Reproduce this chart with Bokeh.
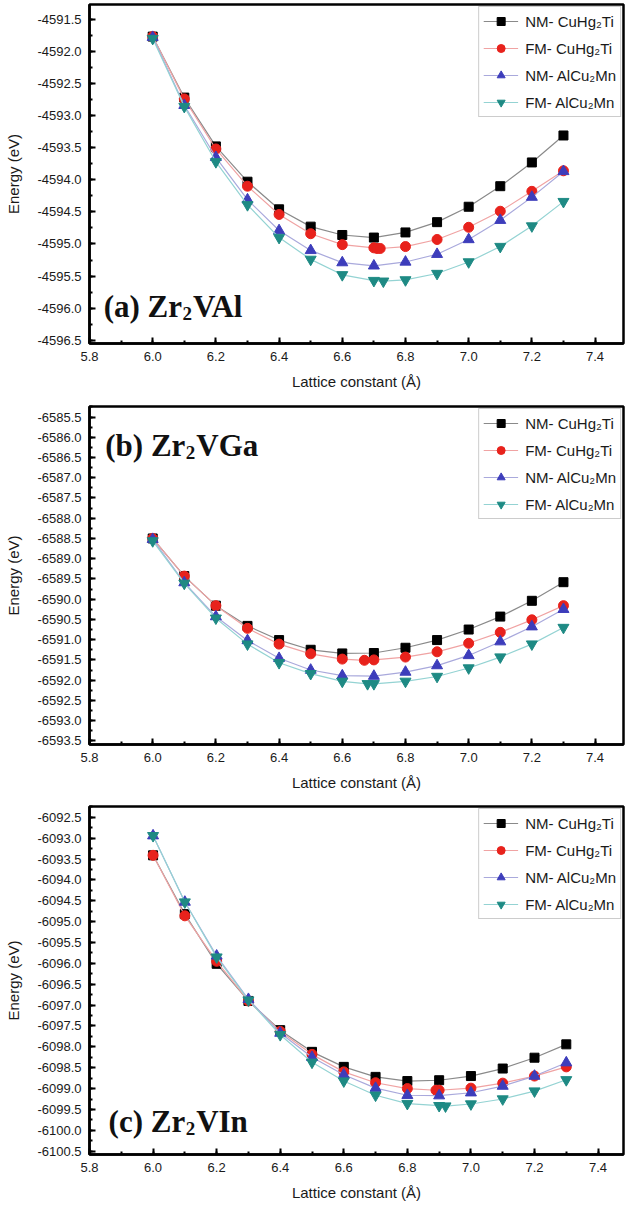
from bokeh.plotting import figure
from bokeh.layouts import column
from bokeh.models import (Range1d, SingleIntervalTicker, PrintfTickFormatter,
                          Legend, LegendItem)
from bokeh.core.properties import value
from bokeh.embed import file_html
from bokeh.resources import INLINE

# ---------------- data: total energy (eV) vs lattice constant (Å) ----------------
lat = [6.0, 6.1, 6.2, 6.3, 6.4, 6.5, 6.6, 6.7, 6.8, 6.9, 7.0, 7.1, 7.2, 7.3]

# Zr2VAl
al_nm_cu_x = lat
al_nm_cu_y = [-4591.77, -4592.72, -4593.48, -4594.03, -4594.46, -4594.73, -4594.86,
              -4594.90, -4594.82, -4594.66, -4594.42, -4594.10, -4593.73, -4593.31]
al_fm_cu_x = [6.0, 6.1, 6.2, 6.3, 6.4, 6.5, 6.6, 6.7, 6.71, 6.72, 6.8, 6.9, 7.0, 7.1, 7.2, 7.3]
al_fm_cu_y = [-4591.77, -4592.74, -4593.52, -4594.10, -4594.54, -4594.84, -4595.01,
              -4595.06, -4595.07, -4595.07, -4595.04, -4594.93, -4594.74, -4594.49,
              -4594.18, -4593.86]
al_nm_al_x = lat
al_nm_al_y = [-4591.78, -4592.84, -4593.65, -4594.31, -4594.79, -4595.10, -4595.29,
              -4595.34, -4595.28, -4595.16, -4594.93, -4594.63, -4594.27, -4593.87]
al_fm_al_x = [6.0, 6.1, 6.2, 6.3, 6.4, 6.5, 6.6, 6.7, 6.73, 6.8, 6.9, 7.0, 7.1, 7.2, 7.3]
al_fm_al_y = [-4591.80, -4592.86, -4593.72, -4594.39, -4594.90, -4595.24, -4595.48,
              -4595.57, -4595.58, -4595.56, -4595.46, -4595.28, -4595.04, -4594.72,
              -4594.34]

# Zr2VGa
ga_nm_cu_x = lat
ga_nm_cu_y = [-6588.50, -6589.43, -6590.16, -6590.66, -6591.01, -6591.25, -6591.34,
              -6591.33, -6591.20, -6591.01, -6590.75, -6590.43, -6590.04, -6589.58]
ga_fm_cu_x = [6.0, 6.1, 6.2, 6.3, 6.4, 6.5, 6.6, 6.67, 6.7, 6.8, 6.9, 7.0, 7.1, 7.2, 7.3]
ga_fm_cu_y = [-6588.50, -6589.43, -6590.16, -6590.72, -6591.11, -6591.35, -6591.48,
              -6591.51, -6591.50, -6591.43, -6591.30, -6591.09, -6590.82, -6590.51,
              -6590.16]
ga_nm_al_x = lat
ga_nm_al_y = [-6588.52, -6589.59, -6590.43, -6591.02, -6591.46, -6591.75, -6591.89,
              -6591.90, -6591.80, -6591.64, -6591.39, -6591.05, -6590.68, -6590.25]
ga_fm_al_x = [6.0, 6.1, 6.2, 6.3, 6.4, 6.5, 6.6, 6.68, 6.7, 6.8, 6.9, 7.0, 7.1, 7.2, 7.3]
ga_fm_al_y = [-6588.56, -6589.61, -6590.47, -6591.11, -6591.57, -6591.84, -6592.03,
              -6592.09, -6592.09, -6592.03, -6591.91, -6591.70, -6591.43, -6591.11,
              -6590.70]

# Zr2VIn
in_nm_cu_x = lat
in_nm_cu_y = [-6093.41, -6094.82, -6096.01, -6096.90, -6097.60, -6098.12, -6098.48,
              -6098.72, -6098.82, -6098.80, -6098.70, -6098.52, -6098.26, -6097.94]
in_fm_cu_x = [6.0, 6.1, 6.2, 6.3, 6.4, 6.5, 6.6, 6.7, 6.8, 6.89, 6.9, 7.0, 7.1, 7.2, 7.3]
in_fm_cu_y = [-6093.41, -6094.86, -6095.95, -6096.90, -6097.63, -6098.18, -6098.60,
              -6098.86, -6099.00, -6099.04, -6099.04, -6098.99, -6098.87, -6098.70,
              -6098.48]
in_nm_al_x = lat
in_nm_al_y = [-6092.94, -6094.53, -6095.82, -6096.86, -6097.67, -6098.25, -6098.67,
              -6098.99, -6099.16, -6099.17, -6099.10, -6098.94, -6098.70, -6098.38]
in_fm_al_x = [6.0, 6.1, 6.2, 6.3, 6.4, 6.5, 6.6, 6.7, 6.8, 6.9, 6.92, 7.0, 7.1, 7.2, 7.3]
in_fm_al_y = [-6092.94, -6094.53, -6095.85, -6096.88, -6097.71, -6098.37, -6098.82,
              -6099.16, -6099.36, -6099.41, -6099.42, -6099.37, -6099.25, -6099.06,
              -6098.79]

series_labels = ["NM- CuHg\u2082Ti", "FM- CuHg\u2082Ti", "NM- AlCu\u2082Mn", "FM- AlCu\u2082Mn"]
panel_names = [("(a) Zr", "2", "VAl"), ("(b) Zr", "2", "VGa"), ("(c) Zr", "2", "VIn")]

# ---------------- styling ----------------
SANS = "Liberation Sans"
SERIF = "Liberation Serif"
styles = [
    dict(marker="square", size=9, fill="#000000", line="#8a8a8a"),
    dict(marker="circle", size=10, fill="#e8221c", line="#f0a3a3"),
    dict(marker="triangle", size=11, fill="#3d3dbb", line="#a9a9dc"),
    dict(marker="inverted_triangle", size=11, fill="#1e8a84", line="#94d3d3"),
]

# Times-Bold advance widths (em) used to place the subscript in the panel tags
TB = {"(": 0.333, ")": 0.333, " ": 0.25, "a": 0.5, "b": 0.556, "c": 0.444,
      "Z": 0.667, "r": 0.444, "2": 0.5}


def tw(s, size):
    return sum(TB.get(ch, 0.6) for ch in s) * size


def make_panel(series, y_rng, x_end, tag, tag_xy, height, borders):
    top, bottom, left, right = borders
    p = figure(width=633, height=height, output_backend="svg", toolbar_location=None,
               x_range=Range1d(5.8, x_end), y_range=Range1d(*y_rng),
               min_border_top=top, min_border_bottom=bottom,
               min_border_left=left, min_border_right=right)
    p.grid.visible = False
    p.outline_line_color = "black"
    p.outline_line_width = 2.5
    p.background_fill_color = "white"
    p.border_fill_color = "white"

    p.xaxis.ticker = SingleIntervalTicker(interval=0.2, num_minor_ticks=2)
    p.yaxis.ticker = SingleIntervalTicker(interval=0.5, num_minor_ticks=2)
    p.xaxis.formatter = PrintfTickFormatter(format="%.1f")
    p.yaxis.formatter = PrintfTickFormatter(format="%.1f")
    for ax in (p.xaxis[0], p.yaxis[0]):
        ax.axis_line_width = 2.5
        ax.axis_line_color = "black"
        ax.major_tick_in = 6
        ax.major_tick_out = 0
        ax.minor_tick_in = 3
        ax.minor_tick_out = 0
        ax.major_tick_line_width = 2
        ax.minor_tick_line_width = 2
        ax.major_tick_line_color = "black"
        ax.minor_tick_line_color = "black"
        ax.major_label_text_font = SANS
        ax.major_label_text_font_size = "13px"
        ax.major_label_text_color = "#1a1a1a"
        ax.axis_label_text_font = SANS
        ax.axis_label_text_font_size = "15px"
        ax.axis_label_text_font_style = "normal"
        ax.axis_label_text_color = "#1a1a1a"
        ax.major_label_standoff = 8
    p.xaxis.axis_label = "Lattice constant (\u00c5)"
    p.yaxis.axis_label = "Energy (eV)"
    p.xaxis.axis_label_standoff = 9
    p.yaxis.axis_label_standoff = 12

    items = []
    for (xs, ys), st, lab in zip(series, styles, series_labels):
        r_line = p.line(xs, ys, line_color=st["line"], line_width=1.2)
        r_pts = p.scatter(xs, ys, marker=st["marker"], size=st["size"],
                          fill_color=st["fill"], line_color=st["fill"])
        items.append(LegendItem(label=lab, renderers=[r_line, r_pts]))

    leg = Legend(items=items, location="top_right", margin=2, padding=4, spacing=7,
                 glyph_width=35, glyph_height=20, label_height=20, label_standoff=7,
                 label_text_font=SANS, label_text_font_size="15px",
                 label_text_color="#1a1a1a",
                 border_line_color="#9a9a9a", border_line_width=1,
                 background_fill_color="white", background_fill_alpha=1.0)
    p.add_layout(leg)

    # panel tag such as "(a) Zr2VAl" with a subscript 2
    head, sub, tail = tag
    tx, ty = tag_xy
    big, small = 31, 19
    w_head = tw(head, big)
    w_sub = tw(sub, small)
    common = dict(text_font=value(SERIF), text_font_style="bold",
                  text_color="#111111", text_baseline="alphabetic", text_align="left")
    p.text(x=[tx], y=[ty], text=[head], text_font_size=f"{big}px", **common)
    p.text(x=[tx], y=[ty], text=[sub], x_offset=w_head + 0.5, y_offset=7,
           text_font_size=f"{small}px", **common)
    p.text(x=[tx], y=[ty], text=[tail], x_offset=w_head + w_sub + 1.5,
           text_font_size=f"{big}px", **common)
    return p


p1 = make_panel([(al_nm_cu_x, al_nm_cu_y), (al_fm_cu_x, al_fm_cu_y),
                 (al_nm_al_x, al_nm_al_y), (al_fm_al_x, al_fm_al_y)],
                (-4596.55, -4591.27), 7.49, panel_names[0], (5.845, -4595.98),
                402, (4, 59, 89, 8))
p2 = make_panel([(ga_nm_cu_x, ga_nm_cu_y), (ga_fm_cu_x, ga_fm_cu_y),
                 (ga_nm_al_x, ga_nm_al_y), (ga_fm_al_x, ga_fm_al_y)],
                (-6593.59, -6585.24), 7.49, panel_names[1], (5.85, -6586.20),
                402, (4, 60, 89, 10))
p3 = make_panel([(in_nm_cu_x, in_nm_cu_y), (in_fm_cu_x, in_fm_cu_y),
                 (in_nm_al_x, in_nm_al_y), (in_fm_al_x, in_fm_al_y)],
                (-6100.58, -6092.24), 7.48, panel_names[2], (5.86, -6099.78),
                402, (2, 52, 85, 0))

layout = column(p1, p2, p3, spacing=0)
open("out.html", "w").write(file_html(layout, INLINE))
